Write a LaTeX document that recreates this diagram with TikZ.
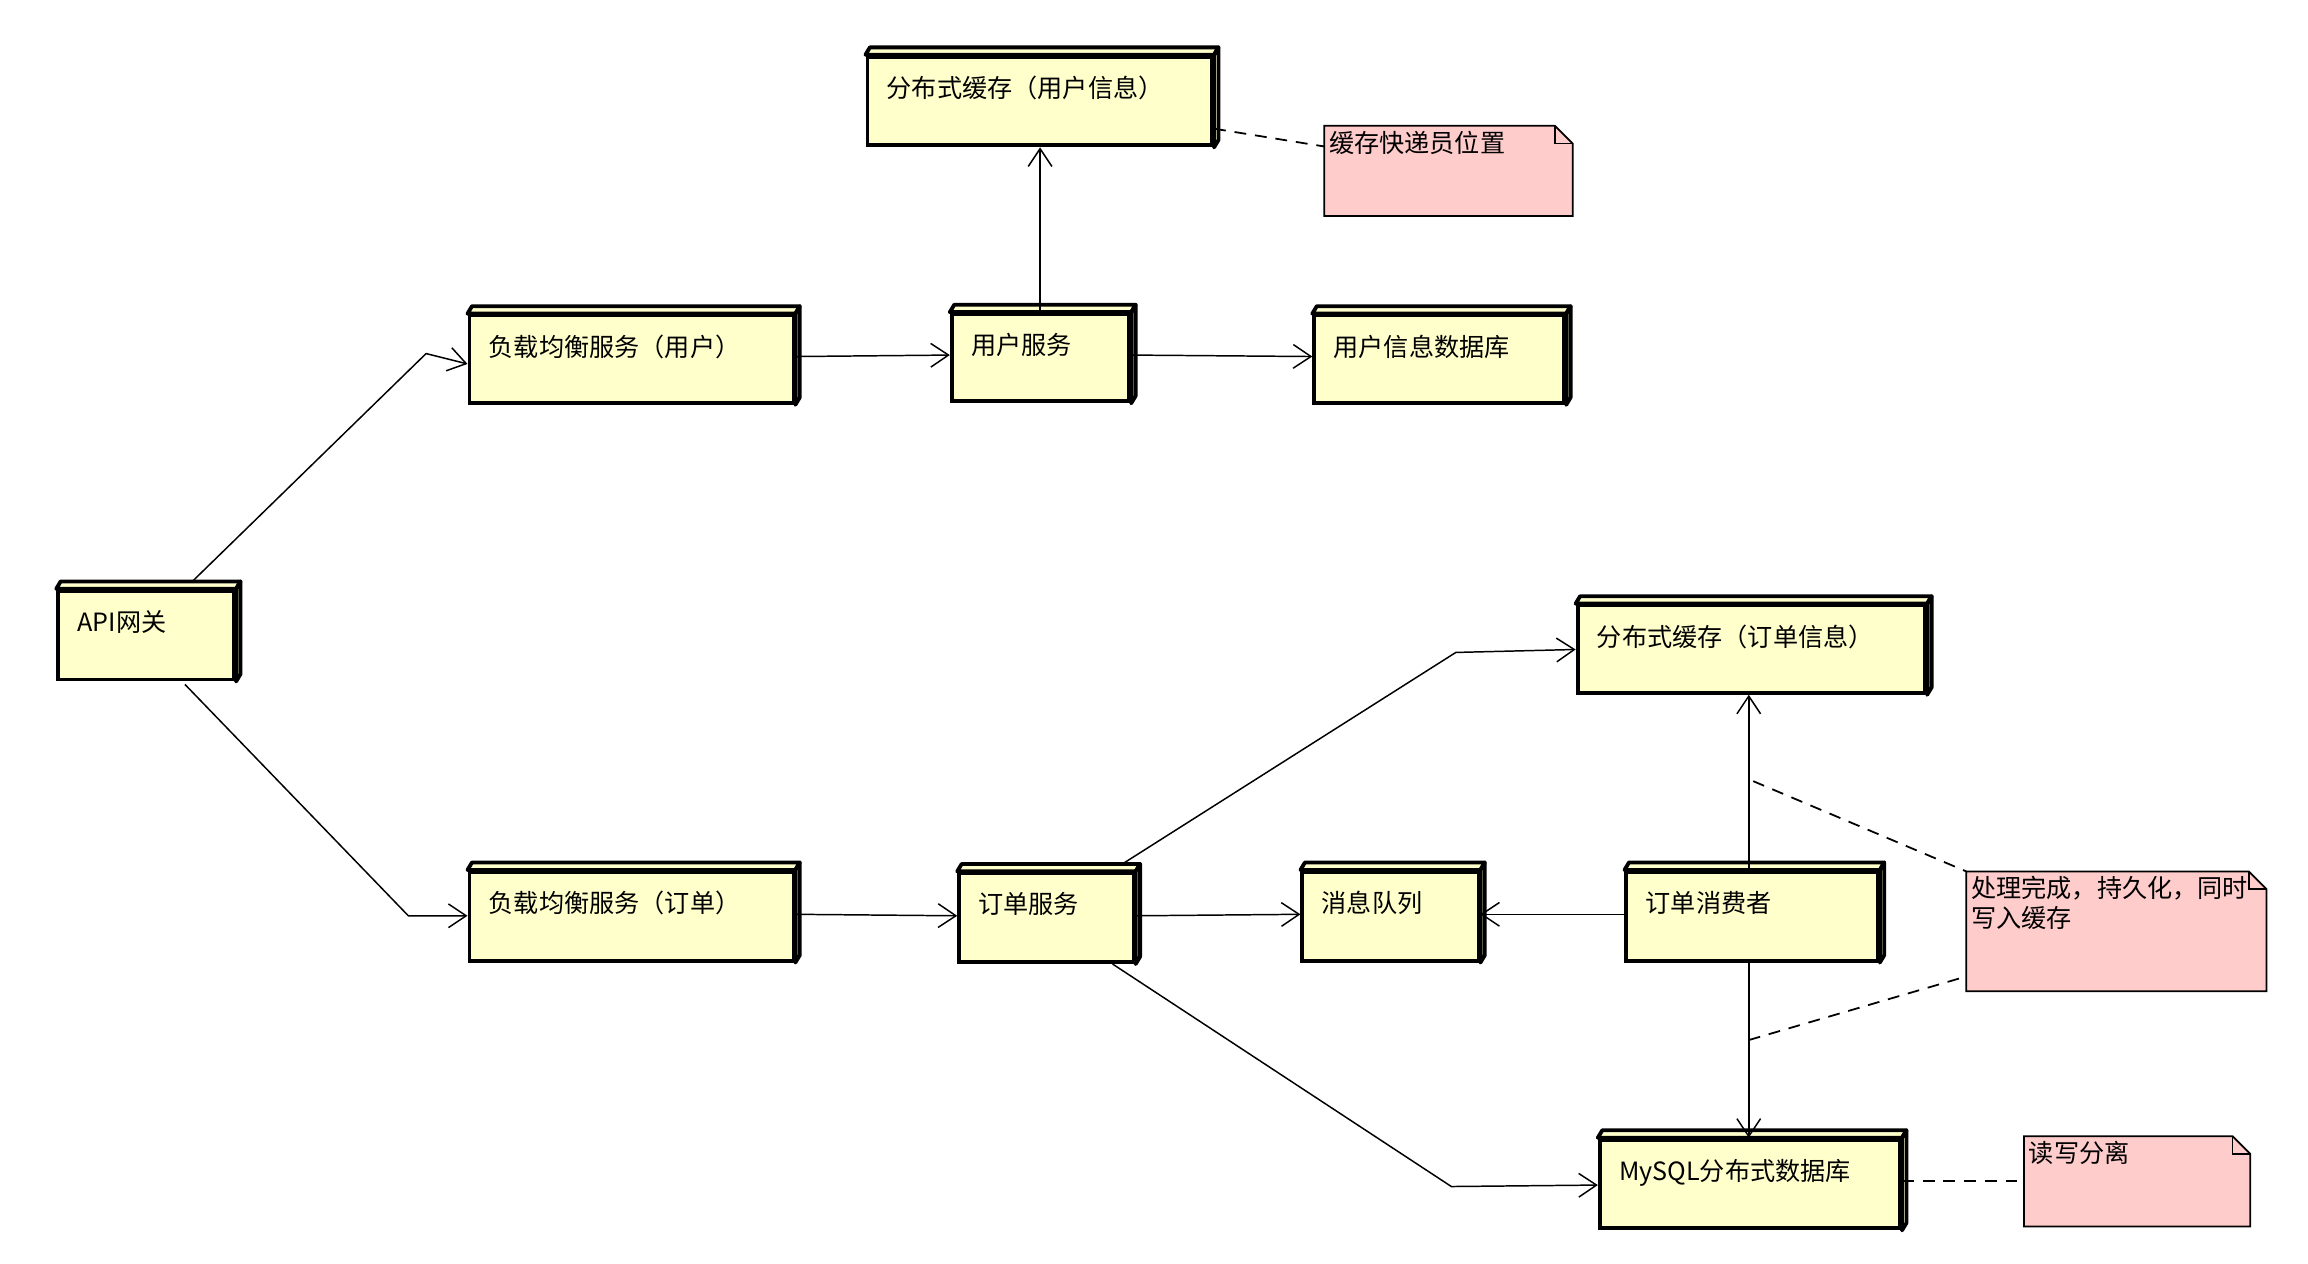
\documentclass[tikz,border=0pt]{standalone}
\usepackage{fontspec}
\setmainfont{Noto Sans CJK SC}
\usetikzlibrary{arrows.meta}
\definecolor{boxfill}{HTML}{FFFFCC}
\definecolor{notefill}{HTML}{FFCCCC}
\tikzset{
  box/.style={draw, line width=1.3pt, fill=boxfill, anchor=north west, inner sep=0pt},
  depth/.style={draw, line width=1.3pt, fill=boxfill, line join=round},
  lbl/.style={anchor=north west, inner sep=0pt, font=\fontsize{8.5}{10}\selectfont},
  conn/.style={line width=0.5pt, -{Straight Barb[length=6pt,width=8pt,line width=0.5pt]}},
  notelink/.style={line width=0.6pt, dash pattern=on 4pt off 3pt},
  note/.style={draw, line width=0.6pt, fill=notefill},
}
\newcommand\dbox[6]{%
  \node[box, minimum width={(#4-#2)*0.5pt}, minimum height={(#5-#3)*0.5pt},
    label={[lbl, xshift=7pt, yshift=-7pt]north west:#6}] (#1) at (#2,#3) {};
  \draw[depth] (#1.north west) -- ++(3,-5) -- ([xshift=1.5pt,yshift=2.5pt]#1.north east) -- (#1.north east) -- cycle;
  \draw[depth] (#1.north east) -- ++(3,-5) -- ([xshift=1.5pt,yshift=2.5pt]#1.south east) -- (#1.south east) -- cycle;
}
\newcommand\notebox[6]{% name x1 y1 x2 y2 text
  \path[note] (#2,#3) -- (#4-12,#3) -- (#4,#3+12) -- (#4,#5) -- (#2,#5) -- cycle;
  \draw[line width=0.6pt] (#4-12,#3) -- (#4-12,#3+12) -- (#4,#3+12);
  \node[lbl, align=left, xshift=1.5pt, yshift=-1.5pt] (#1) at (#2,#3) {#6};
  \coordinate (#1-w) at (#2,#3);
}
\begin{document}
\begin{tikzpicture}[x=0.5pt,y=-0.5pt]
\useasboundingbox (0,0) rectangle (1560,854);
\dbox{cu}{585}{37}{818}{97}{分布式缓存（用户信息）}
\dbox{lbu}{316}{212}{535}{271}{负载均衡服务（用户）}
\dbox{us}{642}{211}{762}{270}{用户服务}
\dbox{udb}{887}{212}{1056}{271}{用户信息数据库}
\dbox{api}{38}{398}{157}{458}{API网关}
\dbox{co}{1065}{408}{1300}{467}{分布式缓存（订单信息）}
\dbox{lbo}{316}{588}{535}{648}{负载均衡服务（订单）}
\dbox{os}{647}{589}{765}{649}{订单服务}
\dbox{mq}{879}{588}{998}{648}{消息队列}
\dbox{oc}{1098}{588}{1268}{648}{订单消费者}
\dbox{db}{1080}{769}{1283}{829}{MySQL分布式数据库}
\notebox{n1}{895}{85}{1063}{146}{缓存快递员位置}
\notebox{n2}{1329}{589}{1532}{670}{处理完成，持久化，同时\\写入缓存}
\notebox{n3}{1368}{768}{1521}{829}{读写分离}
% connectors
\draw[conn] ([xshift=46pt,yshift=2.5pt]api.north west) -- (288,239) -- ([yshift=-17pt]lbu.north west);
\draw[conn] ([xshift=43.5pt,yshift=-1pt]api.south west) -- (276,619) -- ([yshift=-15.5pt]lbo.north west);
\draw[conn] ([yshift=-14.5pt]lbu.north east) -- ([yshift=-14.5pt]us.north west);
\draw[conn] ([xshift=30.5pt]us.north west) -- ([xshift=59pt]cu.south west);
\draw[conn] ([yshift=-14.5pt]us.north east) -- ([yshift=-14.5pt]udb.north west);
\draw[conn] ([yshift=-15pt]lbo.north east) -- ([yshift=-15pt]os.north west);
\draw[conn] ([xshift=55pt,yshift=2pt]os.north west) -- (984,441) -- ([yshift=-15.5pt]co.north west);
\draw[conn] ([yshift=-15pt]os.north east) -- ([yshift=-15pt]mq.north west);
\draw[conn] ([xshift=52.5pt]os.south west) -- (981,802) -- ([yshift=-16pt]db.north west);
\draw[conn] ([yshift=-15pt]oc.north west) -- ([yshift=-15pt]mq.north east);
\draw[conn] ([xshift=42pt]oc.north west) -- ([xshift=58.5pt]co.south west);
\draw[conn] ([xshift=42pt]oc.south west) -- ([xshift=51pt]db.north west);
% note links
\draw[notelink] ([yshift=-25pt]cu.north east) -- ([yshift=-7pt]n1-w);
\coordinate (p1) at (1185,528);
\coordinate (p2) at (1182,703);
\draw[notelink] (p1) -- (n2-w);
\draw[notelink] (p2) -- (1329,660);
\draw[notelink] ([yshift=-14.5pt]db.north east) -- ([yshift=-15pt]n3-w);
\end{tikzpicture}
\end{document}
